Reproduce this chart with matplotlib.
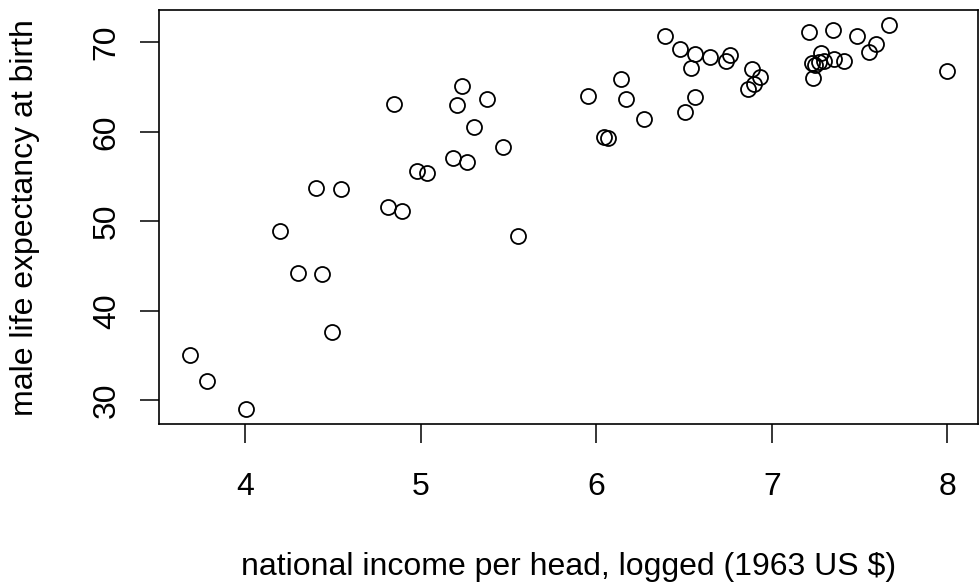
import numpy as np
import matplotlib
matplotlib.use("Agg")
import matplotlib.pyplot as plt

# logged national income per head (1963 US $) and male life expectancy
income_log = [
    5.235, 4.849, 5.210, 5.377, 5.303, 5.472, 5.183, 5.265, 4.982, 5.035,
    4.403, 4.549, 4.815, 4.895, 4.201, 5.556, 4.300, 4.439, 4.494, 3.685,
    3.782, 4.004, 5.953, 6.144, 6.171, 6.274, 6.042, 6.070, 6.389, 6.475,
    6.562, 6.648, 6.540, 6.564, 6.505, 6.741, 6.760, 6.887, 6.930, 6.896,
    6.862, 7.210, 7.349, 7.487, 7.668, 7.591, 7.554, 7.409, 7.353, 7.282,
    7.231, 7.248, 7.268, 7.299, 7.236, 8.000,
]
male_life = [
    65.17, 63.09, 63.05, 63.68, 60.55, 58.28, 57.05, 56.61, 55.67, 55.44,
    53.70, 53.62, 51.61, 51.20, 48.93, 48.33, 44.20, 44.15, 37.60, 35.03,
    32.12, 29.03, 63.99, 65.95, 63.72, 61.41, 59.47, 59.29, 70.73, 69.27,
    68.75, 68.38, 67.15, 63.94, 62.26, 67.97, 68.60, 67.00, 66.18, 65.35,
    64.85, 71.21, 71.40, 70.69, 71.92, 69.80, 68.90, 67.88, 68.16, 68.88,
    67.71, 67.54, 67.82, 67.88, 66.03, 66.78,
]
x_ticks = [4, 5, 6, 7, 8]
y_ticks = [30, 40, 50, 60, 70]

plt.rcParams["font.family"] = ["Liberation Sans", "DejaVu Sans"]

fig = plt.figure(figsize=(9.8, 5.83), dpi=100)
ax = fig.add_axes([0.1626, 0.272, 0.8351, 0.7109])

ax.plot(income_log, male_life, "o", markersize=10.8, markerfacecolor="none",
        markeredgecolor="black", markeredgewidth=1.3)

# R-style 4% axis expansion
x = np.array(income_log)
y = np.array(male_life)
dx = 0.04 * (x.max() - x.min())
dy = 0.04 * (y.max() - y.min())
ax.set_xlim(x.min() - dx, x.max() + dx)
ax.set_ylim(y.min() - dy, y.max() + dy)

ax.set_xticks(x_ticks)
ax.set_yticks(y_ticks)
ax.tick_params(axis="both", direction="out", length=14, width=1.1,
               labelsize=23)
ax.tick_params(axis="x", pad=20)
ax.tick_params(axis="y", pad=13)
for lab in ax.get_yticklabels():
    lab.set_rotation(90)
    lab.set_va("center")

for s in ax.spines.values():
    s.set_linewidth(1.2)

ax.set_xlabel("national income per head, logged (1963 US $)", fontsize=23,
              labelpad=36)
ax.set_ylabel("male life expectancy at birth", fontsize=23, labelpad=37)

fig.savefig("out.png", dpi=100)
